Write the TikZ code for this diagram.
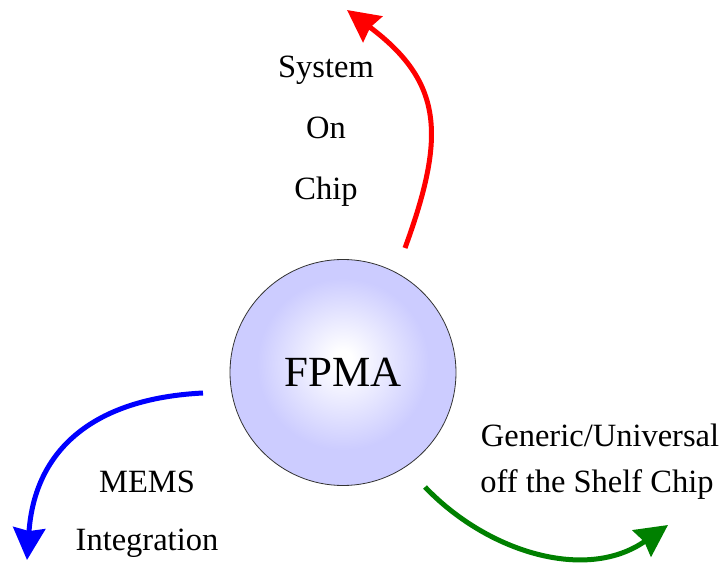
\documentclass[tikz,border=0pt]{standalone}
\usepackage{fontspec}
\setmainfont{Liberation Serif}
\usetikzlibrary{arrows.meta}

\definecolor{lav}{RGB}{204,204,255}
\definecolor{soc}{RGB}{255,0,0}
\definecolor{mems}{RGB}{0,0,255}
\definecolor{cots}{RGB}{0,128,0}

% soft white-to-lavender glow, slightly above the centre (circle edge = 25bp)
\pgfdeclareradialshading{ballshade}{\pgfpoint{0bp}{3bp}}{%
  color(0bp)=(white); color(2bp)=(white); color(19bp)=(lav); color(25bp)=(lav); color(50bp)=(lav)}

\begin{document}
\begin{tikzpicture}[x=1pt,y=1pt,
  sweep/.style={line width=5pt, -{Stealth[length=32pt,width=32pt,inset=3pt]}},
  lbl/.style={font=\fontsize{32.5}{40}\selectfont, inner sep=0pt, anchor=base}]
\useasboundingbox (0,0) rectangle (728,565);

% central element
\node[circle, minimum size=226pt, inner sep=0pt, draw=black!80, line width=0.8pt,
      shading=ballshade, font=\fontsize{43}{50}\selectfont] (core) at (343,192.5) {FPMA};

% labels
\node[lbl] (sys1) at (326,487) {System};
\node[lbl] (sys2) at (326,426) {On};
\node[lbl] (sys3) at (326,365) {Chip};
\node[lbl] (mem1) at (147,73) {MEMS};
\node[lbl] (mem2) at (147,15) {Integration};
\node[lbl] (gen1) at (600,118) {Generic/Universal};
\node[lbl] (gen2) at (597,73) {off the Shelf Chip};

% arrow end points
\coordinate (r0) at (405,317);
\coordinate (r1) at (347,555);
\coordinate (b0) at (203,172);
\coordinate (b1) at (27,5);
\coordinate (g0) at (425,78);
\coordinate (g1) at (668,40);

% curved arrows
\draw[sweep, soc]  (r0) .. controls (446.2,429.7) and (443,483) .. (r1);
\draw[sweep, mems] (b0) .. controls (93,166.5) and (34.7,115) .. (b1);
\draw[sweep, cots] (g0) .. controls (487,13) and (586.2,-17.5) .. (g1);
\end{tikzpicture}
\end{document}
